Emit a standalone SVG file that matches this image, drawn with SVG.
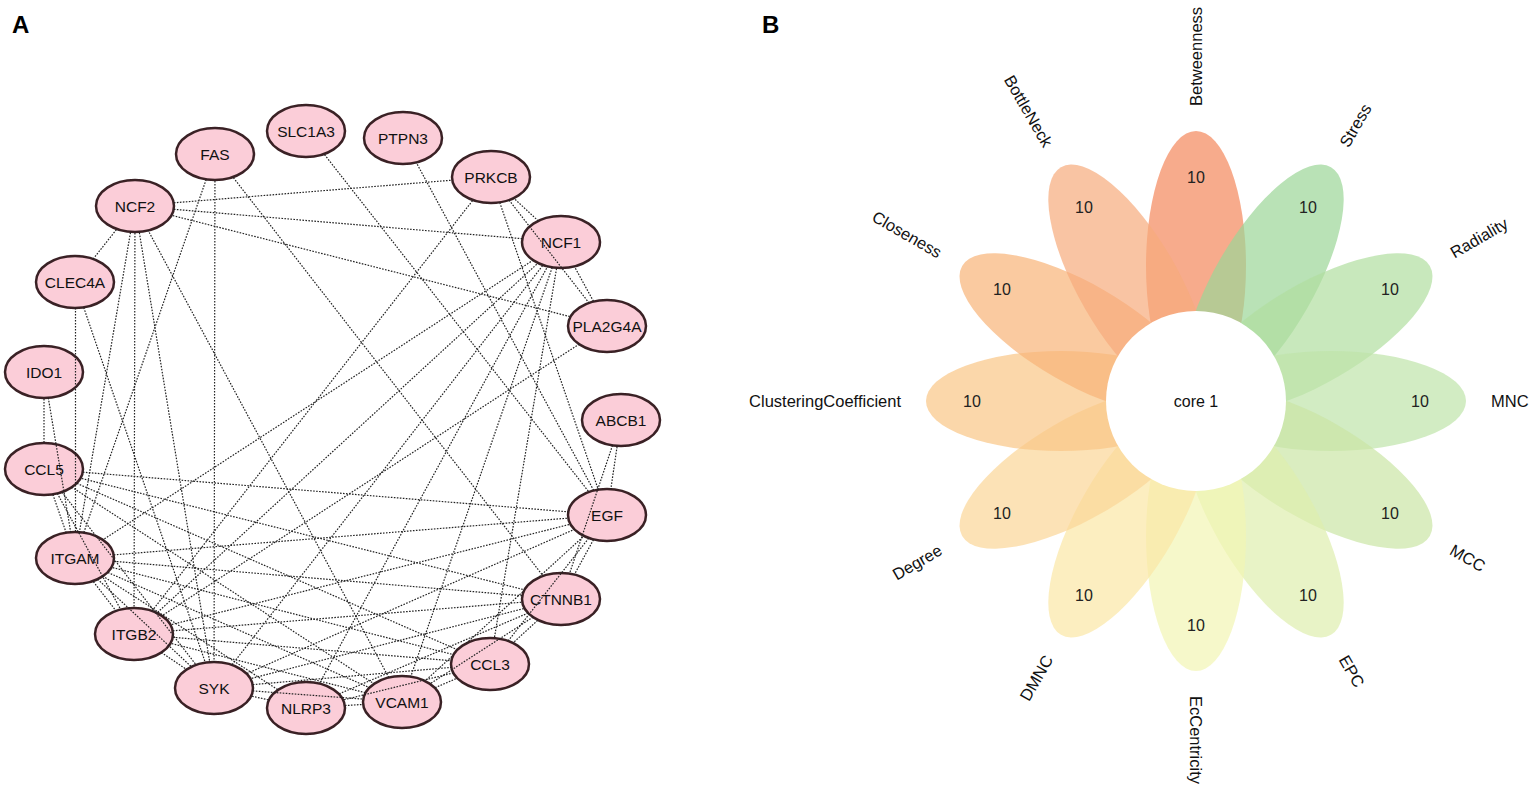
<svg xmlns="http://www.w3.org/2000/svg" width="1535" height="794" viewBox="0 0 1535 794">
<style>
.lbl{font-family:"Liberation Sans",Arial,sans-serif;font-weight:bold;font-size:24px;fill:#000}
.nd ellipse{fill:#fbcdd8;stroke:#3a2125;stroke-width:2.5}
.nd text{font-family:"Liberation Sans",Arial,sans-serif;font-size:15.5px;fill:#111;text-anchor:middle;dominant-baseline:central}
.e line{stroke:#222;stroke-width:1.2;stroke-dasharray:1.6 1.4;fill:none}
.pet{fill-opacity:0.7}
.val{font-family:"Liberation Sans",Arial,sans-serif;font-size:16px;fill:#222;text-anchor:middle;dominant-baseline:central}
.cat{font-family:"Liberation Sans",Arial,sans-serif;font-size:16.5px;fill:#111;dominant-baseline:central}
.st{text-anchor:start}
.en{text-anchor:end}
</style>
<defs>
<mask id="nm" maskUnits="userSpaceOnUse" x="0" y="0" width="1535" height="794">
<rect x="0" y="0" width="1535" height="794" fill="#fff"/>
<g fill="#000">
<ellipse cx="215" cy="154" rx="39" ry="26"/>
<ellipse cx="306" cy="131" rx="39" ry="26"/>
<ellipse cx="403" cy="138" rx="39" ry="26"/>
<ellipse cx="491" cy="177" rx="39" ry="26"/>
<ellipse cx="561" cy="242" rx="39" ry="26"/>
<ellipse cx="607" cy="326" rx="39" ry="26"/>
<ellipse cx="621" cy="420" rx="39" ry="26"/>
<ellipse cx="607" cy="515" rx="39" ry="26"/>
<ellipse cx="561" cy="599" rx="39" ry="26"/>
<ellipse cx="490" cy="664" rx="39" ry="26"/>
<ellipse cx="402" cy="702" rx="39" ry="26"/>
<ellipse cx="306" cy="708" rx="39" ry="26"/>
<ellipse cx="214" cy="688" rx="39" ry="26"/>
<ellipse cx="134" cy="634" rx="39" ry="26"/>
<ellipse cx="75" cy="558" rx="39" ry="26"/>
<ellipse cx="44" cy="469" rx="39" ry="26"/>
<ellipse cx="44" cy="372" rx="39" ry="26"/>
<ellipse cx="75" cy="282" rx="39" ry="26"/>
<ellipse cx="135" cy="206" rx="39" ry="26"/>
</g>
</mask>
</defs>
<rect width="1535" height="794" fill="#fff"/>
<text class="lbl" x="12" y="33">A</text>
<text class="lbl" x="762" y="33">B</text>

<g id="nodes">
<g id="n-FAS" class="nd"><ellipse cx="215" cy="154" rx="39" ry="26"/><text x="215" y="154">FAS</text></g>
<g id="n-SLC1A3" class="nd"><ellipse cx="306" cy="131" rx="39" ry="26"/><text x="306" y="131">SLC1A3</text></g>
<g id="n-PTPN3" class="nd"><ellipse cx="403" cy="138" rx="39" ry="26"/><text x="403" y="138">PTPN3</text></g>
<g id="n-PRKCB" class="nd"><ellipse cx="491" cy="177" rx="39" ry="26"/><text x="491" y="177">PRKCB</text></g>
<g id="n-NCF1" class="nd"><ellipse cx="561" cy="242" rx="39" ry="26"/><text x="561" y="242">NCF1</text></g>
<g id="n-PLA2G4A" class="nd"><ellipse cx="607" cy="326" rx="39" ry="26"/><text x="607" y="326">PLA2G4A</text></g>
<g id="n-ABCB1" class="nd"><ellipse cx="621" cy="420" rx="39" ry="26"/><text x="621" y="420">ABCB1</text></g>
<g id="n-EGF" class="nd"><ellipse cx="607" cy="515" rx="39" ry="26"/><text x="607" y="515">EGF</text></g>
<g id="n-CTNNB1" class="nd"><ellipse cx="561" cy="599" rx="39" ry="26"/><text x="561" y="599">CTNNB1</text></g>
<g id="n-CCL3" class="nd"><ellipse cx="490" cy="664" rx="39" ry="26"/><text x="490" y="664">CCL3</text></g>
<g id="n-VCAM1" class="nd"><ellipse cx="402" cy="702" rx="39" ry="26"/><text x="402" y="702">VCAM1</text></g>
<g id="n-NLRP3" class="nd"><ellipse cx="306" cy="708" rx="39" ry="26"/><text x="306" y="708">NLRP3</text></g>
<g id="n-SYK" class="nd"><ellipse cx="214" cy="688" rx="39" ry="26"/><text x="214" y="688">SYK</text></g>
<g id="n-ITGB2" class="nd"><ellipse cx="134" cy="634" rx="39" ry="26"/><text x="134" y="634">ITGB2</text></g>
<g id="n-ITGAM" class="nd"><ellipse cx="75" cy="558" rx="39" ry="26"/><text x="75" y="558">ITGAM</text></g>
<g id="n-CCL5" class="nd"><ellipse cx="44" cy="469" rx="39" ry="26"/><text x="44" y="469">CCL5</text></g>
<g id="n-IDO1" class="nd"><ellipse cx="44" cy="372" rx="39" ry="26"/><text x="44" y="372">IDO1</text></g>
<g id="n-CLEC4A" class="nd"><ellipse cx="75" cy="282" rx="39" ry="26"/><text x="75" y="282">CLEC4A</text></g>
<g id="n-NCF2" class="nd"><ellipse cx="135" cy="206" rx="39" ry="26"/><text x="135" y="206">NCF2</text></g>
</g>

<g id="edges" class="e">
<g mask="url(#nm)">
<line x1="135" y1="206" x2="491" y2="177"/>
<line x1="135" y1="206" x2="561" y2="242"/>
<line x1="135" y1="206" x2="607" y2="326"/>
<line x1="135" y1="206" x2="75" y2="282"/>
<line x1="135" y1="206" x2="75" y2="558"/>
<line x1="135" y1="206" x2="134" y2="634"/>
<line x1="135" y1="206" x2="214" y2="688"/>
<line x1="135" y1="206" x2="402" y2="702"/>
<line x1="215" y1="154" x2="75" y2="558"/>
<line x1="215" y1="154" x2="214" y2="688"/>
<line x1="215" y1="154" x2="561" y2="599"/>
<line x1="306" y1="131" x2="607" y2="515"/>
<line x1="403" y1="138" x2="607" y2="515"/>
<line x1="491" y1="177" x2="561" y2="242"/>
<line x1="491" y1="177" x2="607" y2="515"/>
<line x1="491" y1="177" x2="134" y2="634"/>
<line x1="561" y1="242" x2="607" y2="326"/>
<line x1="561" y1="242" x2="75" y2="558"/>
<line x1="561" y1="242" x2="134" y2="634"/>
<line x1="561" y1="242" x2="214" y2="688"/>
<line x1="561" y1="242" x2="306" y2="708"/>
<line x1="561" y1="242" x2="402" y2="702"/>
<line x1="561" y1="242" x2="490" y2="664"/>
<line x1="607" y1="326" x2="134" y2="634"/>
<line x1="621" y1="420" x2="607" y2="515"/>
<line x1="75" y1="282" x2="214" y2="688"/>
<line x1="44" y1="372" x2="44" y2="469"/>
<line x1="44" y1="469" x2="607" y2="515"/>
<line x1="44" y1="469" x2="561" y2="599"/>
<line x1="44" y1="469" x2="490" y2="664"/>
<line x1="44" y1="469" x2="402" y2="702"/>
<line x1="44" y1="469" x2="75" y2="558"/>
<line x1="75" y1="558" x2="607" y2="515"/>
<line x1="75" y1="558" x2="561" y2="599"/>
<line x1="75" y1="558" x2="490" y2="664"/>
<line x1="75" y1="558" x2="402" y2="702"/>
<line x1="75" y1="558" x2="306" y2="708"/>
<line x1="75" y1="558" x2="134" y2="634"/>
<line x1="134" y1="634" x2="607" y2="515"/>
<line x1="134" y1="634" x2="490" y2="664"/>
<line x1="134" y1="634" x2="402" y2="702"/>
<line x1="134" y1="634" x2="214" y2="688"/>
<line x1="134" y1="634" x2="561" y2="599"/>
<line x1="214" y1="688" x2="306" y2="708"/>
<line x1="214" y1="688" x2="490" y2="664"/>
<line x1="214" y1="688" x2="561" y2="599"/>
<line x1="214" y1="688" x2="607" y2="515"/>
<line x1="306" y1="708" x2="402" y2="702"/>
<line x1="306" y1="708" x2="561" y2="599"/>
<line x1="402" y1="702" x2="490" y2="664"/>
<line x1="402" y1="702" x2="607" y2="515"/>
<line x1="490" y1="664" x2="561" y2="599"/>
<line x1="561" y1="599" x2="607" y2="515"/>
</g>
<g>
<line x1="75.5" y1="308" x2="75.5" y2="532"/>
<line x1="48.3" y1="397.8" x2="70.7" y2="532.2"/>
<line x1="57.3" y1="493.4" x2="120.7" y2="609.6"/>
<line x1="97.6" y1="579.2" x2="191.4" y2="666.8"/>
<line x1="612.5" y1="445.4" x2="569.5" y2="573.6"/>
<line x1="533.1" y1="617.1" x2="429.9" y2="683.9"/>
<line x1="453.4" y1="672.9" x2="342.6" y2="700.1"/>
<line x1="252.8" y1="690.9" x2="363.2" y2="699.1"/>
<line x1="509" y1="200.1" x2="589" y2="302.9"/>
<line x1="61.9" y1="492.1" x2="196.1" y2="664.9"/>
<line x1="508.1" y1="641" x2="588.9" y2="538"/>
</g>
</g>

<g id="petals">
<g id="p-Betweenness"><ellipse class="pet" cx="1331" cy="401" rx="135" ry="50" fill="#F4885B" transform="rotate(-90 1196 401)"/></g>
<g id="p-Stress"><ellipse class="pet" cx="1331" cy="401" rx="135" ry="50" fill="#9BD697" transform="rotate(-60 1196 401)"/></g>
<g id="p-Radiality"><ellipse class="pet" cx="1331" cy="401" rx="135" ry="50" fill="#B0DE9F" transform="rotate(-30 1196 401)"/></g>
<g id="p-MNC"><ellipse class="pet" cx="1331" cy="401" rx="135" ry="50" fill="#BFE4A9"/></g>
<g id="p-MCC"><ellipse class="pet" cx="1331" cy="401" rx="135" ry="50" fill="#CAE5A5" transform="rotate(30 1196 401)"/></g>
<g id="p-EPC"><ellipse class="pet" cx="1331" cy="401" rx="135" ry="50" fill="#DEEEAE" transform="rotate(60 1196 401)"/></g>
<g id="p-EcCentricity"><ellipse class="pet" cx="1331" cy="401" rx="135" ry="50" fill="#F2F5B3" transform="rotate(90 1196 401)"/></g>
<g id="p-DMNC"><ellipse class="pet" cx="1331" cy="401" rx="135" ry="50" fill="#FBE7A5" transform="rotate(120 1196 401)"/></g>
<g id="p-Degree"><ellipse class="pet" cx="1331" cy="401" rx="135" ry="50" fill="#FBD697" transform="rotate(150 1196 401)"/></g>
<g id="p-ClusteringCoefficient"><ellipse class="pet" cx="1331" cy="401" rx="135" ry="50" fill="#F9C686" transform="rotate(180 1196 401)"/></g>
<g id="p-Closeness"><ellipse class="pet" cx="1331" cy="401" rx="135" ry="50" fill="#F8B377" transform="rotate(210 1196 401)"/></g>
<g id="p-BottleNeck"><ellipse class="pet" cx="1331" cy="401" rx="135" ry="50" fill="#F6AB7C" transform="rotate(240 1196 401)"/></g>
</g>
<g id="core"><circle cx="1196" cy="401" r="90" fill="#fff"/><text class="val" x="1196" y="401" style="fill:#111">core 1</text></g>

<g id="values">
<text class="val" x="1196" y="177">10</text>
<text class="val" x="1308" y="207">10</text>
<text class="val" x="1390" y="289">10</text>
<text class="val" x="1420" y="401">10</text>
<text class="val" x="1390" y="513">10</text>
<text class="val" x="1308" y="595">10</text>
<text class="val" x="1196" y="625">10</text>
<text class="val" x="1084" y="595">10</text>
<text class="val" x="1002" y="513">10</text>
<text class="val" x="972" y="401">10</text>
<text class="val" x="1002" y="289">10</text>
<text class="val" x="1084" y="207">10</text>
</g>
<g id="categories">
<text class="cat st" transform="translate(1196 106) rotate(-90)">Betweenness</text>
<text class="cat st" transform="translate(1343.5 145.5) rotate(-60)">Stress</text>
<text class="cat st" transform="translate(1451.5 253.5) rotate(-30)">Radiality</text>
<text class="cat st" transform="translate(1491 401)">MNC</text>
<text class="cat st" transform="translate(1451.5 548.5) rotate(30)">MCC</text>
<text class="cat st" transform="translate(1343.5 656.5) rotate(60)">EPC</text>
<text class="cat st" transform="translate(1196 696) rotate(90)">EcCentricity</text>
<text class="cat en" transform="translate(1048.5 656.5) rotate(-60)">DMNC</text>
<text class="cat en" transform="translate(940.5 548.5) rotate(-30)">Degree</text>
<text class="cat en" transform="translate(901 401)">ClusteringCoefficient</text>
<text class="cat en" transform="translate(940.5 253.5) rotate(30)">Closeness</text>
<text class="cat en" transform="translate(1048.5 145.5) rotate(60)">BottleNeck</text>
</g>
</svg>
